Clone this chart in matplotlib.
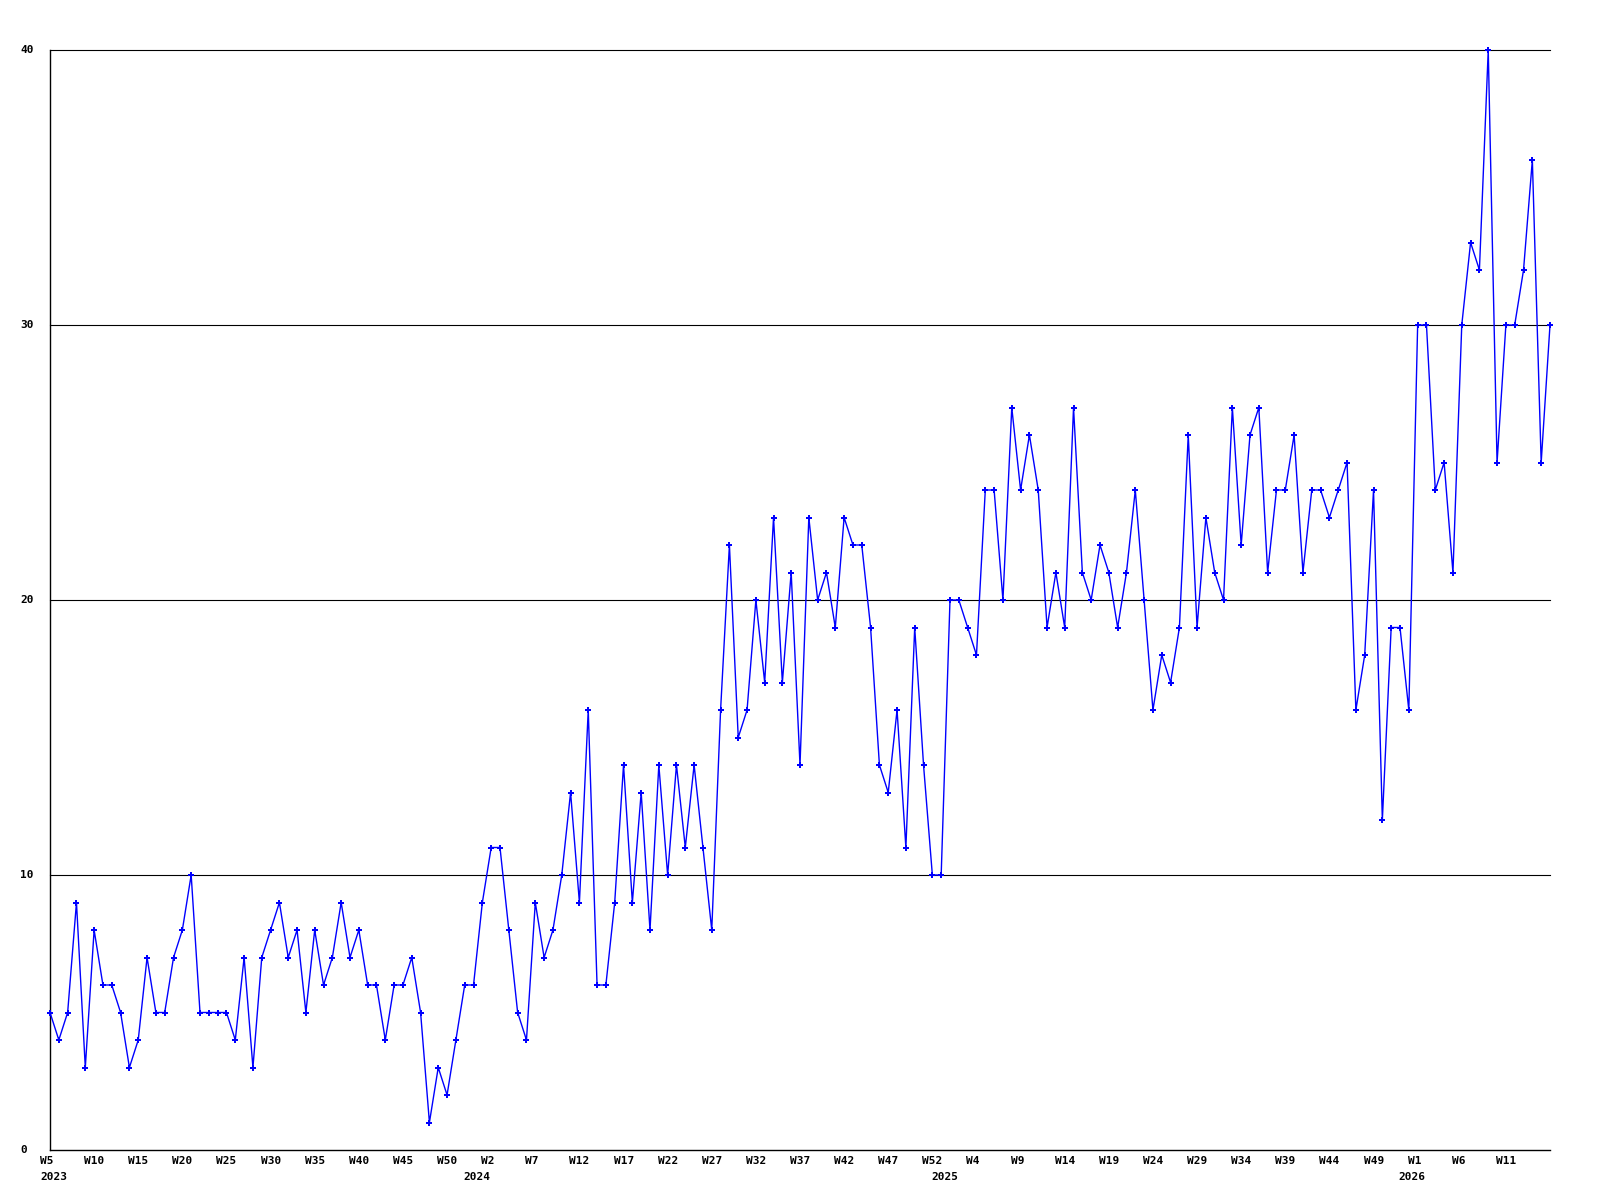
import matplotlib
matplotlib.use("Agg")
import matplotlib.pyplot as plt
from matplotlib.transforms import blended_transform_factory, offset_copy

# weekly counts, one list per year (2023 starts at W5, later years at W0)
counts_2023 = [5, 4, 5, 9, 3, 8, 6, 6, 5, 3,
               4, 7, 5, 5, 7, 8, 10, 5, 5, 5,
               5, 4, 7, 3, 7, 8, 9, 7, 8, 5,
               8, 6, 7, 9, 7, 8, 6, 6, 4, 6,
               6, 7, 5, 1, 3, 2, 4, 6]
counts_2024 = [6, 9, 11, 11, 8, 5, 4, 9, 7, 8,
               10, 13, 9, 16, 6, 6, 9, 14, 9, 13,
               8, 14, 10, 14, 11, 14, 11, 8, 16, 22,
               15, 16, 20, 17, 23, 17, 21, 14, 23, 20,
               21, 19, 23, 22, 22, 19, 14, 13, 16, 11,
               19, 14, 10]
counts_2025 = [10, 20, 20, 19, 18, 24, 24, 20, 27, 24,
               26, 24, 19, 21, 19, 27, 21, 20, 22, 21,
               19, 21, 24, 20, 16, 18, 17, 19, 26, 19,
               23, 21, 20, 27, 22, 26, 27, 21, 24, 24,
               26, 21, 24, 24, 23, 24, 25, 16, 18, 24,
               12, 19, 19]
counts_2026 = [16, 30, 30, 24, 25, 21, 30, 33, 32, 40,
               25, 30, 30, 32, 36, 25, 30]

first_week = {2023: 5, 2024: 0, 2025: 0, 2026: 0}
y_ticks = [0, 10, 20, 30, 40]

years = []
weeks = []
values = []
for year, counts in [(2023, counts_2023), (2024, counts_2024),
                     (2025, counts_2025), (2026, counts_2026)]:
    for k, v in enumerate(counts):
        years.append(year)
        weeks.append(first_week[year] + k)
        values.append(v)
x = list(range(len(values)))

W, H = 1600, 1200
fig = plt.figure(figsize=(16, 12), dpi=100)
ax = fig.add_axes([50 / W, 50 / H, 1500 / W, 1100 / H])

for v in y_ticks[1:]:
    ax.axhline(v, color="black", lw=0.8, zorder=1, clip_on=False)

ax.plot(x, values, color="#0000ff", lw=1.0, marker="P", ms=4, mew=0,
        zorder=3, clip_on=False)

ax.set_xlim(0, len(values) - 1)
ax.set_ylim(0, 40)
ax.set_xticks([])
ax.set_yticks([])
for side in ["top", "right"]:
    ax.spines[side].set_visible(False)
for side in ["left", "bottom"]:
    ax.spines[side].set_color("black")
    ax.spines[side].set_linewidth(1.0)

font = dict(family="DejaVu Sans Mono", weight="bold", size=8)

# x labels: week every 5 points, year under the first week of each year
xtrans = offset_copy(blended_transform_factory(ax.transData, fig.transFigure),
                     fig=fig, x=-10, y=0, units="dots")
for i in x[:-1]:
    if i % 5 == 0:
        ax.text(i, 1 - 1161 / H, f"W{weeks[i]}", transform=xtrans,
                ha="left", va="center", **font)
    if i == 0 or years[i] != years[i - 1]:
        ax.text(i, 1 - 1177 / H, str(years[i]), transform=xtrans,
                ha="left", va="center", **font)

ytrans = blended_transform_factory(fig.transFigure, ax.transData)
for v in y_ticks:
    ax.text(20 / W, v, str(v), transform=ytrans, ha="left", va="center", **font)

fig.savefig("out.png", dpi=100)
